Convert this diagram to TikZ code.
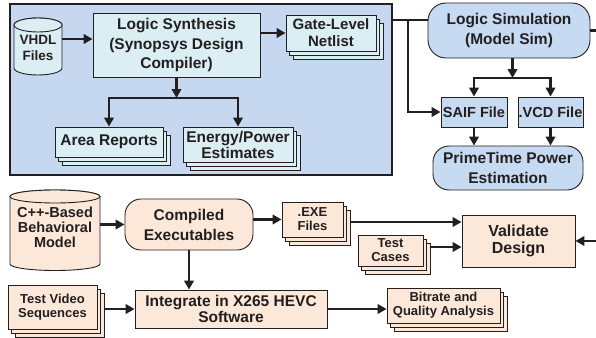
\documentclass[tikz,border=0pt]{standalone}
\usepackage{fontspec}
\setmainfont{Liberation Sans}
\usetikzlibrary{arrows.meta,shadows,calc}
\definecolor{ink}{RGB}{35,31,32}
\definecolor{panelblue}{RGB}{197,216,240}
\definecolor{paleblue}{RGB}{198,218,241}
\definecolor{palecyan}{RGB}{219,238,244}
\definecolor{peach}{RGB}{252,232,217}
\newcommand\diagfont[2]{\fontsize{#1}{#2}\selectfont\bfseries}

\begin{document}
\begin{tikzpicture}[x=1pt,y=-1pt,
  every node/.style={inner sep=0pt, align=center, text=ink},
  box/.style={draw=ink, line width=0.9pt, fill=#1},
  roundbox/.style={box=#1, rounded corners=16pt},
  paperstack/.style={box=#1,
    general shadow={fill=#1, draw=ink, line width=0.9pt, shadow xshift=7pt, shadow yshift=-8pt},
    general shadow={fill=#1, draw=ink, line width=0.9pt, shadow xshift=3.5pt, shadow yshift=-4pt}},
  cyl/.style={draw=ink, line width=0.9pt, fill=#1},
  wire/.style={draw=ink, line width=2.6pt},
  arr/.style={wire, -{Triangle[length=9pt,width=9.5pt]}},
]
\useasboundingbox (0,0) rectangle (596,337);

% synthesis panel
\node[box=panelblue, line width=1.1pt, minimum width=382pt, minimum height=171pt] (panel) at (201,89.5) {};

% VHDL source cylinder
\path[cyl=palecyan] (14,25) -- (14,68) arc[start angle=180, end angle=360, x radius=24pt, y radius=7pt]
  -- (62,25) arc[start angle=0, end angle=180, x radius=24pt, y radius=7pt] -- cycle;
\draw[cyl=palecyan] (38,25) ellipse [x radius=24pt, y radius=7pt];
\node[font=\diagfont{13.5}{16}, minimum width=48pt, minimum height=54pt] (vhdl) at (38,48) {VHDL\\Files};

\node[box=palecyan, font=\diagfont{15.5}{19.5}, minimum width=167pt, minimum height=64pt] (synth) at (176.5,45)
  {Logic Synthesis\\(Synopsys Design\\Compiler)};
\node[paperstack=palecyan, font=\diagfont{15}{17}, minimum width=90pt, minimum height=36pt] (gate) at (331,33)
  {Gate-Level\\Netlist};
\node[paperstack=palecyan, font=\diagfont{15.5}{18}, minimum width=108pt, minimum height=30pt] (area) at (109,142)
  {Area Reports};
\node[paperstack=palecyan, font=\diagfont{15.5}{16}, minimum width=110pt, minimum height=35pt] (energy) at (238,144.5)
  {Energy/Power\\Estimates};

% simulation and power flow
\node[roundbox=paleblue, rounded corners=18pt, font=\diagfont{15.5}{20}, minimum width=162pt, minimum height=55pt] (logicsim) at (509,30.5)
  {Logic Simulation\\(Model Sim)};
\node[box=paleblue, font=\diagfont{14.5}{17}, minimum width=66pt, minimum height=30pt] (saif) at (474,112) {SAIF File};
\node[box=paleblue, font=\diagfont{14.5}{17}, minimum width=65pt, minimum height=30pt] (vcd) at (550.5,112) {.VCD File};
\node[roundbox=paleblue, font=\diagfont{15.5}{20}, minimum width=150pt, minimum height=44pt] (prime) at (508,168)
  {PrimeTime Power\\Estimation};

% behavioral model flow
\path[cyl=peach] (10,196.5) -- (10,264) arc[start angle=180, end angle=360, x radius=45pt, y radius=6.5pt]
  -- (100,196.5) arc[start angle=0, end angle=180, x radius=45pt, y radius=6.5pt] -- cycle;
\draw[cyl=peach] (55,196.5) ellipse [x radius=45pt, y radius=6.5pt];
\node[font=\diagfont{14.5}{15}, minimum width=90pt, minimum height=60pt] (cpp) at (55,227)
  {C++-Based\\Behavioral\\Model};

\node[roundbox=peach, font=\diagfont{15.5}{20}, minimum width=128pt, minimum height=51pt] (compiled) at (189,224.5)
  {Compiled\\Executables};
\node[paperstack=peach, font=\diagfont{13}{14}, minimum width=61pt, minimum height=35pt] (exe) at (312.5,219.5)
  {.EXE\\Files};
\node[paperstack=peach, font=\diagfont{13}{14}, minimum width=65pt, minimum height=31pt] (tests) at (390.5,250.5)
  {Test\\Cases};
\node[box=peach, font=\diagfont{16}{17}, minimum width=113pt, minimum height=52pt] (validate) at (518.5,241)
  {Validate\\Design};
\node[box=peach, font=\diagfont{15.5}{15.5}, minimum width=192pt, minimum height=38pt] (integrate) at (231,309)
  {Integrate in X265 HEVC\\Software};
\node[paperstack=peach, font=\diagfont{13}{14.5}, minimum width=89pt, minimum height=44pt] (video) at (52.5,307)
  {Test Video\\Sequences};
\node[paperstack=peach, font=\diagfont{13}{14}, minimum width=113pt, minimum height=35pt] (bitrate) at (443.5,305.5)
  {Bitrate and\\Quality Analysis};

% helper points
\coordinate (rim) at (596,0);
\coordinate (sbar) at (176.5,98);
\coordinate (tap) at (408,20);
\coordinate (lbar) at (512.5,78);
\coordinate (vhdlout) at ([yshift=9pt]vhdl.east);
\coordinate (exeout) at ([xshift=7pt,yshift=-2.5pt]exe.east);
\coordinate (testout) at ([xshift=7pt,yshift=3.5pt]tests.east);
\coordinate (vidout) at ([xshift=7pt]video.east);

% connectors: synthesis
\draw[arr] (vhdlout) -- (vhdlout -| synth.west);
\draw[arr] (synth.east |- gate.west) -- (gate.west);
\draw[arr] (synth.south) -- (sbar);
\draw[arr] (sbar) -| (area.north);
\draw[arr] (sbar) -| (energy.north);

% connectors: simulation and power
\draw[wire] (panel.east |- tap) -- (tap -| logicsim.west);
\draw[arr] (tap) |- (saif.west);
\draw[arr] (logicsim.south -| lbar) -- (lbar);
\draw[arr] (lbar) -| (saif.north);
\draw[arr] (lbar) -| (vcd.north);
\draw[arr] (saif.south) -- (saif.south |- prime.north);
\draw[arr] (vcd.south) -- (vcd.south |- prime.north);
\draw[wire] (logicsim.east) -- (logicsim.east -| rim);
\draw[arr] (validate.east -| rim) -- (validate.east);

% connectors: behavioral model
\draw[arr] (cpp.east |- compiled.west) -- (compiled.west);
\draw[arr] (compiled.east |- exe.west) -- (exe.west);
\draw[arr] (exeout) -- (exeout -| validate.west);
\draw[arr] (testout) -- (testout -| validate.west);
\draw[arr] (compiled.south) -- (compiled.south |- integrate.north);
\draw[arr] (vidout |- integrate.west) -- (integrate.west);
\draw[arr] (integrate.east) -- (integrate.east -| bitrate.west);
\end{tikzpicture}
\end{document}
